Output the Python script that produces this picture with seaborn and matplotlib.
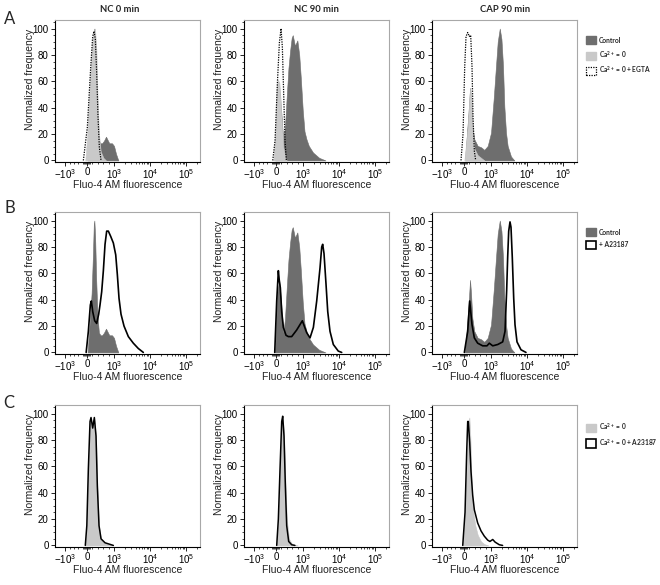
import numpy as np
import matplotlib
matplotlib.use("Agg")
import matplotlib.pyplot as plt
import seaborn as sns
from matplotlib.patches import Patch
from matplotlib.ticker import FixedLocator
from matplotlib.font_manager import FontProperties

# ---------------- data (Fluo-4 AM fluorescence, normalized frequency) ----------------
# controls
ctrl_nc0_x = [20, 110, 170, 220, 250, 271, 300, 340, 390, 440, 500, 560, 630, 703, 752, 826, 926, 1000, 1137, 1318]
ctrl_nc0_y = [0, 25, 45, 75, 97, 100, 88, 55, 27, 15, 13, 13, 15, 18, 16, 13, 13, 11, 5, 0]
ctrl_nc90_x = [-40, 50, 120, 200, 270, 330, 400, 460, 520, 580, 620, 700, 790, 860, 920, 990, 1100, 1250, 1450, 1900, 2800, 4200]
ctrl_nc90_y = [0, 45, 55, 35, 15, 25, 50, 70, 83, 93, 95, 87, 91, 80, 62, 38, 22, 16, 11, 6, 2, 0]
ctrl_cap90_x = [37, 111, 185, 222, 259, 308, 382, 506, 630, 752, 877, 1000, 1188, 1377, 1535, 1750, 1950, 2150, 2346, 2610, 2900, 3590, 4440]
ctrl_cap90_y = [0, 21, 42, 55, 45, 26, 16, 11, 10, 8, 11, 21, 47, 72, 90, 100, 92, 72, 41, 21, 11, 3, 0]

# Ca2+ = 0 (row A)
ca0_nc0_x = [-80, 11, 86, 173, 234, 296, 346, 395, 444, 506, 605, 703]
ca0_nc0_y = [0, 20, 50, 84, 97, 100, 84, 45, 20, 7, 2, 0]
ca0_nc90_x = [-124, -32, 25, 74, 123, 173, 210, 271, 346, 395]
ca0_nc90_y = [0, 20, 56, 61, 59, 45, 30, 10, 2, 0]
ca0_cap90_x = [12, 136, 197, 234, 284, 333, 382, 506, 630, 752]
ca0_cap90_y = [0, 25, 48, 55, 45, 20, 9, 4, 2, 0]

# Ca2+ = 0 + EGTA (row A)
egta_nc0_x = [-170, 11, 137, 210, 259, 308, 358, 407, 456, 519]
egta_nc0_y = [0, 25, 71, 94, 98, 92, 66, 33, 10, 0]
egta_nc90_x = [-152, -46, 49, 123, 185, 234, 284, 333, 382]
egta_nc90_y = [0, 15, 58, 89, 100, 86, 50, 15, 0]
egta_cap90_x = [-140, -46, 25, 74, 136, 197, 247, 296, 333, 382, 432]
egta_cap90_y = [0, 20, 71, 94, 97, 94, 95, 71, 33, 7, 0]

# + A23187 (row B)
a23_nc0_x = [-40, 49, 123, 160, 210, 284, 358, 432, 481, 543, 605, 667, 728, 790, 877, 975, 1115, 1237, 1377, 1564, 1896, 2500, 3440, 4720, 6520]
a23_nc0_y = [0, 16, 36, 39, 31, 24, 22, 29, 36, 46, 62, 82, 92, 92, 88, 83, 74, 59, 41, 29, 20, 12, 7, 3, 0]
a23_nc90_x = [-60, 25, 86, 123, 160, 210, 271, 370, 456, 580, 765, 975, 1265, 1564, 1940, 2400, 2965, 3305, 3520, 3830, 4350, 4860, 5620, 6950, 9550, 11870]
a23_nc90_y = [0, 39, 62, 54, 49, 31, 19, 13, 12, 12, 17, 24, 15, 11, 19, 39, 64, 80, 82, 75, 52, 31, 16, 6, 1, 0]
a23_cap90_x = [12, 136, 210, 296, 382, 506, 692, 850, 937, 1115, 1535, 2110, 2450, 2720, 2900, 3100, 3370, 3590, 3900, 4270, 4640, 5270, 6810, 9360]
a23_cap90_y = [0, 16, 39, 21, 11, 7, 5, 5, 7, 5, 6, 8, 16, 47, 72, 92, 99, 95, 72, 41, 21, 8, 2, 0]

# Ca2+ = 0 (row C fill) and Ca2+ = 0 + A23187 (row C line)
c_ca0_nc0_x = [-90, -14, 49, 111, 148, 210, 271, 333, 382, 444, 519, 667, 975]
c_ca0_nc0_y = [0, 15, 58, 94, 96, 90, 96, 83, 45, 15, 5, 2, 0]
c_a23_nc0_x = [-80, -10, 49, 111, 148, 210, 271, 333, 382, 444, 519, 667, 975]
c_a23_nc0_y = [0, 15, 58, 94, 97, 89, 97, 83, 45, 15, 5, 2, 0]
c_ca0_nc90_x = [25, 86, 148, 210, 247, 296, 346, 400, 480, 600, 800]
c_ca0_nc90_y = [0, 20, 58, 94, 97, 85, 50, 20, 5, 1, 0]
c_a23_nc90_x = [25, 86, 148, 210, 247, 296, 346, 395, 469, 580, 700]
c_a23_nc90_y = [0, 20, 58, 94, 98, 83, 45, 15, 3, 0.5, 0]
c_ca0_cap90_x = [-60, 37, 99, 160, 197, 234, 284, 346, 419, 506, 630, 752, 900]
c_ca0_cap90_y = [0, 20, 58, 94, 97, 83, 45, 25, 15, 8, 3, 1, 0]
c_a23_cap90_x = [-60, 37, 99, 136, 160, 210, 259, 321, 382, 444, 506, 630, 752, 877, 960, 1115, 1300, 1700, 2100]
c_a23_cap90_y = [0, 25, 71, 94, 94, 78, 56, 38, 27, 22, 17, 11, 7, 4, 3, 4.5, 2.5, 0.5, 0]

col_titles = ["NC 0 min", "NC 90 min", "CAP 90 min"]
row_letters = ["A", "B", "C"]
x_tick_vals = [-1000, 0, 1000, 10000, 100000]
x_tick_labels = [r"$-10^{3}$", "0", r"$10^{3}$", r"$10^{4}$", r"$10^{5}$"]
y_tick_vals = [0, 20, 40, 60, 80, 100]
legend_a = ["Control", "Ca$^{2+}$ = 0", "Ca$^{2+}$ = 0 + EGTA"]
legend_b = ["Control", "+ A23187"]
legend_c = ["Ca$^{2+}$ = 0", "Ca$^{2+}$ = 0 + A23187"]

# ---------------- style ----------------
sns.set_theme(style="ticks")
plt.rcParams["font.family"] = ["Liberation Sans", "DejaVu Sans"]
plt.rcParams["mathtext.fontset"] = "custom"
plt.rcParams["mathtext.rm"] = "Liberation Sans"
plt.rcParams["mathtext.it"] = "Liberation Sans:italic"
plt.rcParams["mathtext.bf"] = "Liberation Sans:bold"
plt.rcParams["mathtext.default"] = "regular"

DARK = "#6e6e6e"
LIGHT = "#c9c9c9"

# biexponential-like x scale (FlowJo style)
T = 1000.0
POS_LIN = 0.75
NEG_LIN = 0.6


def fwd(x):
    x = np.asarray(x, dtype=float)
    a = np.abs(x)
    lp = np.log10(np.maximum(a, T) / T)
    pos = np.where(a <= T, POS_LIN * a / T, POS_LIN + lp)
    neg = np.where(a <= T, NEG_LIN * a / T, NEG_LIN + lp)
    return np.where(x >= 0, pos, -neg)


def inv(t):
    t = np.asarray(t, dtype=float)
    a = np.abs(t)
    pos = np.where(a <= POS_LIN, a / POS_LIN * T, T * 10 ** np.clip(a - POS_LIN, 0, 12))
    neg = np.where(a <= NEG_LIN, a / NEG_LIN * T, T * 10 ** np.clip(a - NEG_LIN, 0, 12))
    return np.where(t >= 0, pos, -neg)


fig = plt.figure(figsize=(6.6, 5.85), dpi=100)
W, H = 660.0, 585.0
col_left = [55, 244, 432]
row_top = [20, 212, 405]
ax_w, ax_h = 145, 142

minor_x = ([-800, -600, -400, -200, -120, -80, -40, 40, 80, 120, 200, 400, 600, 800]
           + [2000, 3000, 4000, 5000, 6000, 7000, 8000, 9000]
           + [20000, 30000, 40000, 50000, 60000, 70000, 80000, 90000, 200000])
minor_y = [v for v in range(0, 106, 5) if v % 20 != 0]


def fill(ax, xs, ys, color):
    ax.fill_between(xs, ys, 0, color=color, lw=0.4, edgecolor=color, zorder=2)


def line(ax, xs, ys, ls="-", lw=1.2, z=4):
    sns.lineplot(x=xs, y=ys, ax=ax, color="black", lw=lw, linestyle=ls,
                 sort=False, estimator=None, zorder=z, legend=False)


axes = [[None] * 3 for _ in range(3)]
for r in range(3):
    for c in range(3):
        left = col_left[c] / W
        bottom = 1 - (row_top[r] + ax_h) / H
        ax = fig.add_axes([left, bottom, ax_w / W, ax_h / H])
        ax.set_xscale("function", functions=(fwd, inv))
        axes[r][c] = ax

ctrl = [(ctrl_nc0_x, ctrl_nc0_y), (ctrl_nc90_x, ctrl_nc90_y), (ctrl_cap90_x, ctrl_cap90_y)]
ca0 = [(ca0_nc0_x, ca0_nc0_y), (ca0_nc90_x, ca0_nc90_y), (ca0_cap90_x, ca0_cap90_y)]
egta = [(egta_nc0_x, egta_nc0_y), (egta_nc90_x, egta_nc90_y), (egta_cap90_x, egta_cap90_y)]
a23 = [(a23_nc0_x, a23_nc0_y), (a23_nc90_x, a23_nc90_y), (a23_cap90_x, a23_cap90_y)]
c_ca0 = [(c_ca0_nc0_x, c_ca0_nc0_y), (c_ca0_nc90_x, c_ca0_nc90_y), (c_ca0_cap90_x, c_ca0_cap90_y)]
c_a23 = [(c_a23_nc0_x, c_a23_nc0_y), (c_a23_nc90_x, c_a23_nc90_y), (c_a23_cap90_x, c_a23_cap90_y)]

for c in range(3):
    # row A
    ax = axes[0][c]
    fill(ax, *ctrl[c], DARK)
    fill(ax, *ca0[c], LIGHT)
    line(ax, *egta[c], ls=(0, (1.0, 1.0)), lw=0.9)
    # row B
    ax = axes[1][c]
    fill(ax, *ctrl[c], DARK)
    line(ax, *a23[c], lw=1.2)
    # row C
    ax = axes[2][c]
    fill(ax, *c_ca0[c], LIGHT)
    line(ax, *c_a23[c], lw=1.1)

for r in range(3):
    for c in range(3):
        ax = axes[r][c]
        ax.set_xlim(-1950, 245000)
        ax.set_ylim(-1.2, 106.5)
        ax.xaxis.set_major_locator(FixedLocator(x_tick_vals))
        ax.set_xticklabels(x_tick_labels)
        ax.xaxis.set_minor_locator(FixedLocator(minor_x))
        ax.yaxis.set_major_locator(FixedLocator(y_tick_vals))
        ax.set_yticklabels([str(v) for v in y_tick_vals])
        ax.yaxis.set_minor_locator(FixedLocator(minor_y))
        ax.tick_params(axis="both", which="major", direction="out", length=3, width=0.6,
                       labelsize=7, colors="black", pad=1.5)
        ax.tick_params(axis="both", which="minor", direction="out", length=1.6, width=0.5,
                       colors="black")
        ax.tick_params(axis="x", which="major", pad=0.5)
        for s in ["left", "bottom"]:
            ax.spines[s].set_color("black")
            ax.spines[s].set_linewidth(0.8)
        for s in ["top", "right"]:
            ax.spines[s].set_visible(True)
            ax.spines[s].set_color("#a8a8a8")
            ax.spines[s].set_linewidth(0.8)
        ax.set_ylabel("Normalized frequency", fontsize=7.5, color="#222222")
        ax.set_xlabel("Fluo-4 AM fluorescence", fontsize=7.5, color="#222222")
        ax.yaxis.set_label_coords(-0.135, 0.58)
        ax.xaxis.set_label_coords(0.5, -0.13)
        ax.set_facecolor("white")

title_font = FontProperties(family="Lato", weight="bold", size=6.8)
for c, (cx, t) in enumerate(zip([120, 316.5, 505], col_titles)):
    fig.text(cx / W, 1 - 10 / H, t, ha="center", va="center", fontproperties=title_font)

letter_font = FontProperties(family="Lato", size=12)
for (lx, ly), L in zip([(10, 19), (10, 208), (9, 403)], row_letters):
    fig.text(lx / W, 1 - ly / H, L, ha="center", va="center", fontproperties=letter_font)

leg_font = FontProperties(family="Lato", weight="bold", size=4.8)
h_ctrl = Patch(facecolor=DARK, edgecolor=DARK)
h_ca0 = Patch(facecolor=LIGHT, edgecolor=LIGHT)
h_egta = Patch(facecolor="white", edgecolor="black", linestyle=(0, (1, 1)), linewidth=0.9)
h_a23 = Patch(facecolor="white", edgecolor="black", linewidth=1.2)

for r, (hs, labs) in enumerate([([h_ctrl, h_ca0, h_egta], legend_a),
                                 ([h_ctrl, h_a23], legend_b),
                                 ([h_ca0, h_a23], legend_c)]):
    axes[r][2].legend(hs, labs, loc="upper left", bbox_to_anchor=(1.065, 0.885),
                      frameon=False, borderpad=0, borderaxespad=0,
                      handlelength=1.5, handleheight=1.5, handletextpad=0.4,
                      labelspacing=0.65, prop=leg_font)

fig.savefig("out.png", dpi=100, facecolor="white")
